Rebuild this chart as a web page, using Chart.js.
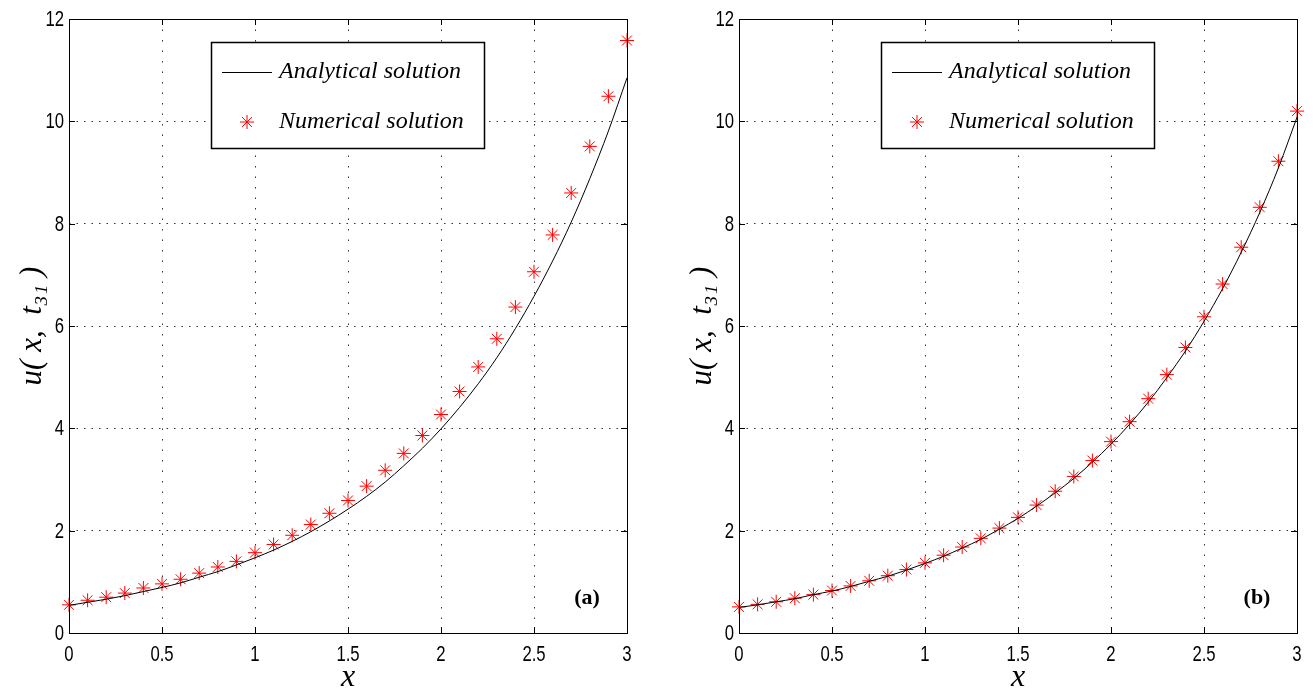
<!DOCTYPE html>
<html><head><meta charset="utf-8">
<script src="https://cdn.jsdelivr.net/npm/chart.js@4.4.0/dist/chart.umd.min.js"></script>
<style>
html,body{margin:0;padding:0;background:#fff;overflow:hidden;}
#wrap{position:relative;width:1316px;height:694px;}
.pane{position:absolute;top:0;height:694px;}
</style></head><body>
<div id="wrap">
<div class="pane" style="left:0;width:658px"><canvas id="ca" width="658" height="694"></canvas></div>
<div class="pane" style="left:670px;width:646px"><canvas id="cb" width="646" height="694"></canvas></div>
</div>
<script>
const xValues = [0,0.1,0.2,0.3,0.4,0.5,0.6,0.7,0.8,0.9,1.0,1.1,1.2,1.3,1.4,1.5,1.6,1.7,1.8,1.9,2.0,2.1,2.2,2.3,2.4,2.5,2.6,2.7,2.8,2.9,3.0];
const analyticalA = [0.54,0.60,0.66,0.73,0.81,0.89,0.98,1.09,1.20,1.33,1.47,1.62,1.79,1.98,2.19,2.42,2.67,2.95,3.27,3.61,3.99,4.41,4.87,5.38,5.95,6.58,7.27,8.03,8.88,9.81,10.85];
const numericalA = [0.55,0.64,0.70,0.78,0.88,0.96,1.05,1.17,1.29,1.40,1.57,1.73,1.91,2.12,2.34,2.59,2.87,3.18,3.51,3.86,4.27,4.72,5.20,5.75,6.37,7.06,7.78,8.60,9.51,10.49,11.58];
const analyticalB = [0.50,0.55,0.61,0.67,0.75,0.82,0.91,1.01,1.11,1.23,1.36,1.50,1.66,1.83,2.03,2.24,2.48,2.74,3.02,3.34,3.69,4.08,4.51,4.99,5.51,6.09,6.73,7.44,8.22,9.09,10.08];
const numericalB = [0.51,0.56,0.61,0.68,0.75,0.83,0.92,1.02,1.12,1.24,1.37,1.52,1.68,1.85,2.05,2.26,2.50,2.77,3.06,3.37,3.74,4.13,4.58,5.05,5.58,6.18,6.82,7.54,8.32,9.22,10.20];
const xTicks = [0,0.5,1,1.5,2,2.5,3];
const yTicks = [0,2,4,6,8,10,12];
const xTickLabels = ['0','0.5','1','1.5','2','2.5','3'];
const yTickLabels = ['0','2','4','6','8','10','12'];
const seriesLabels = ['Analytical solution','Numerical solution'];
const panelLabels = ['(a)','(b)'];
const xTitle = 'x';
const yTitle = 'u( x,  t\u2083\u2081 )';

const tickFont = "22px 'Liberation Sans','Arial',sans-serif";
const serif = "'Liberation Serif','DejaVu Serif',serif";

function pts(ys){ return xValues.map((x,i)=>({x:x,y:ys[i]})); }

function narrowText(ctx, text, x, y, align, sx){
  ctx.save();
  ctx.translate(x, y);
  ctx.scale(sx, 1);
  ctx.textAlign = align;
  ctx.fillText(text, 0, 0);
  ctx.restore();
}

const framePlugin = {
  id:'frame',
  afterDatasetsDraw(chart, args, opts){
    const ctx = chart.ctx, a = chart.chartArea;
    const xs = chart.scales.x, ys = chart.scales.y;
    ctx.save();
    // inward tick marks
    ctx.strokeStyle = '#000'; ctx.lineWidth = 1;
    ctx.beginPath();
    xTicks.forEach(v=>{
      const px = Math.round(xs.getPixelForValue(v))+0.5;
      ctx.moveTo(px, a.bottom); ctx.lineTo(px, a.bottom-6);
      ctx.moveTo(px, a.top); ctx.lineTo(px, a.top+6);
    });
    yTicks.forEach(v=>{
      const py = Math.round(ys.getPixelForValue(v))+0.5;
      ctx.moveTo(a.left, py); ctx.lineTo(a.left+6, py);
      ctx.moveTo(a.right, py); ctx.lineTo(a.right-6, py);
    });
    ctx.stroke();
    // frame
    ctx.strokeRect(Math.round(a.left)+0.5, Math.round(a.top)+0.5, Math.round(a.right-a.left), Math.round(a.bottom-a.top));
    // tick labels (condensed, positioned by the scales)
    ctx.fillStyle = '#000';
    ctx.font = tickFont;
    ctx.textBaseline = 'middle';
    xTicks.forEach((v,i)=>{
      narrowText(ctx, xTickLabels[i], xs.getPixelForValue(v), a.bottom+22, 'center', 0.76);
    });
    yTicks.forEach((v,i)=>{
      narrowText(ctx, yTickLabels[i], a.left-5, ys.getPixelForValue(v)+1, 'right', 0.76);
    });
    // legend box
    const bx = a.left + 142, by = 42, bw = 273, bh = 106;
    ctx.fillStyle = '#fff';
    ctx.fillRect(bx, by, bw, bh);
    ctx.strokeStyle = '#000';
    ctx.lineWidth = 1.5;
    ctx.strokeRect(bx+0.5, by+0.5, bw, bh);
    ctx.lineWidth = 1;
    ctx.beginPath();
    ctx.moveTo(bx+11, by+30.5); ctx.lineTo(bx+61, by+30.5);
    ctx.stroke();
    ctx.strokeStyle = '#ff0000';
    Chart.helpers.drawPoint(ctx, {pointStyle:'star', radius:7, borderWidth:1, rotation:0}, bx+36, by+80);
    ctx.fillStyle = '#000';
    ctx.font = "italic 24px " + serif;
    ctx.textBaseline = 'middle';
    ctx.textAlign = 'left';
    ctx.fillText(seriesLabels[0], bx+68, by+30);
    ctx.fillText(seriesLabels[1], bx+68, by+80);
    // panel label
    ctx.font = "bold 22px " + serif;
    ctx.textAlign = 'center';
    ctx.fillText(opts.panel, a.right-40, 598);
    ctx.restore();
  }
};

function makeChart(id, ana, num, panel, rightPad){
  return new Chart(document.getElementById(id), {
    type:'scatter',
    data:{datasets:[
      {label:seriesLabels[0], data:pts(ana), showLine:true, borderColor:'#000', borderWidth:1, pointRadius:0, cubicInterpolationMode:'monotone', fill:false},
      {label:seriesLabels[1], data:pts(num), showLine:false, pointStyle:'star', pointRadius:7, pointBorderWidth:1, borderColor:'#ff0000', backgroundColor:'#ff0000', clip:false}
    ]},
    options:{
      responsive:false, animation:false,
      layout:{padding:{left:0, right:rightPad, top:19, bottom:0}},
      plugins:{legend:{display:false}, tooltip:{enabled:false}, frame:{panel:panel}},
      scales:{
        x:{type:'linear', min:0, max:3,
          afterBuildTicks(s){ s.ticks = xTicks.map(v=>({value:v})); },
          afterFit(s){ s.height = 61; },
          ticks:{display:false},
          grid:{drawTicks:false, color:'#333', lineWidth:1},
          border:{display:false, dash:[1.5,9]},
          title:{display:true, text:xTitle, font:{family:serif, style:'italic', size:32, lineHeight:1}, color:'#000', padding:{top:0,bottom:0}}
        },
        y:{type:'linear', min:0, max:12,
          afterBuildTicks(s){ s.ticks = yTicks.map(v=>({value:v})); },
          afterFit(s){ s.width = 69; },
          ticks:{display:false},
          grid:{drawTicks:false, color:'#333', lineWidth:1},
          border:{display:false, dash:[1.5,6]},
          title:{display:true, text:yTitle, font:{family:serif, style:'italic', size:31, lineHeight:1}, color:'#000', padding:{top:17,bottom:0}}
        }
      }
    },
    plugins:[framePlugin]
  });
}
makeChart('ca', analyticalA, numericalA, panelLabels[0], 658-627);
makeChart('cb', analyticalB, numericalB, panelLabels[1], 646-(1297-670));
</script>
</body></html>
